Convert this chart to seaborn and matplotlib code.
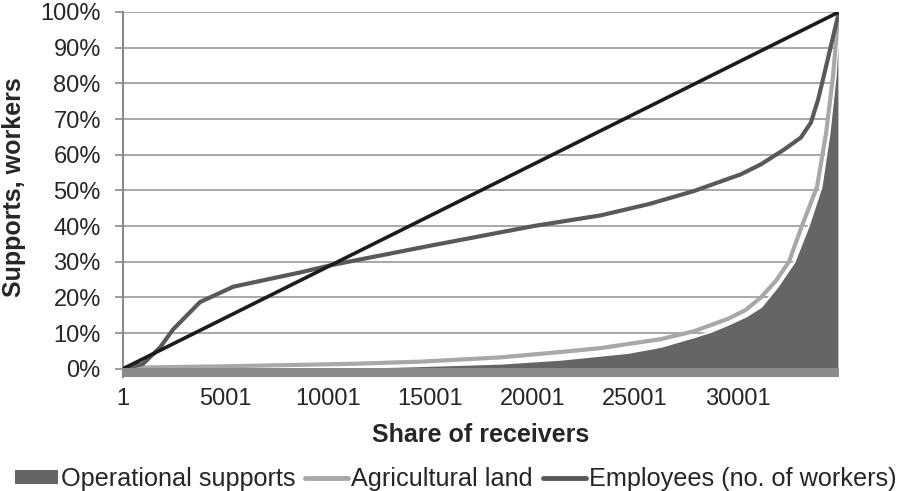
import numpy as np
import pandas as pd
import seaborn as sns
from matplotlib import pyplot as plt
from matplotlib.patches import Patch
from matplotlib.lines import Line2D

# ============================================================
# DATA (cumulative shares in %)
# ============================================================
ops_x = [1, 5000, 8650, 11240, 14520, 18430, 21360, 24640, 26250, 27860, 28690, 29530,
         30400, 31140, 31920, 32750, 33440, 34070, 34460, 34760, 34950]
ops_y = [0, 0, 0.1, 0.4, 0.9, 1.6, 2.7, 4.6, 6.3, 9.0, 10.5, 12.5,
         14.8, 17.5, 23, 30, 40, 51, 66, 82, 100]

land_x = [1, 5000, 11240, 14520, 18430, 21360, 23320, 26250, 27860, 29530, 30400, 31140,
          31850, 32510, 33140, 33880, 34320, 34660, 34930]
land_y = [0.3, 0.7, 1.4, 2.0, 3.2, 4.7, 5.8, 8.3, 10.5, 14, 16.5, 20,
          24.5, 30, 40, 51, 66, 82, 100]

emp_x = [1, 980, 1810, 2440, 3760, 5380, 8650, 10120, 15000, 20040,
         23320, 25700, 27860, 30160, 31140, 32260, 33090, 33580, 33930, 34320, 34660, 34950]
emp_y = [0, 1.4, 6, 11, 18.7, 23, 27, 29, 34.5, 40,
         43, 46.2, 49.8, 54.5, 57.3, 61.4, 64.8, 69, 75.4, 84.7, 93, 100]

equal_x = [1, 34950]
equal_y = [0, 100]

tick_pos = [1, 5001, 10001, 15001, 20001, 25001, 30001]
y_ticks = list(range(0, 101, 10))

series_names = ["Operational supports", "Agricultural land", "Employees (no. of workers)"]

# ============================================================
# PLOT
# ============================================================
sns.set_theme(style="white")
plt.rcParams['font.family'] = ['Liberation Sans', 'DejaVu Sans']

c_area = "#656565"
c_land = "#a8a8a8"
c_emp = "#595959"
c_eq = "#1c1c1c"
c_axis = "#8a8a8a"

fig = plt.figure(figsize=(9.06, 4.91), dpi=100)
ax = fig.add_axes([0.1358, 0.2322, 0.7902, 0.7434])

ax.fill_between(ops_x, ops_y, 0, color=c_area, edgecolor="white", linewidth=1.5, zorder=2)

land_df = pd.DataFrame({"x": land_x, "y": land_y})
emp_df = pd.DataFrame({"x": emp_x, "y": emp_y})
eq_df = pd.DataFrame({"x": equal_x, "y": equal_y})
sns.lineplot(data=land_df, x="x", y="y", color=c_land, linewidth=3, ax=ax, zorder=3)
sns.lineplot(data=emp_df, x="x", y="y", color=c_emp, linewidth=3, ax=ax, zorder=4)
sns.lineplot(data=eq_df, x="x", y="y", color=c_eq, linewidth=2.6, ax=ax, zorder=5)

# thick grey floor under the plot
ax.axhspan(-2.3, 0.3, color=c_axis, zorder=6, linewidth=0)

ax.set_xlim(1, 34950)
ax.set_ylim(-2.3, 100)
ax.set_yticks(y_ticks)
ax.set_yticklabels([f"{v}%" for v in y_ticks], fontsize=17)
ax.set_xticks(tick_pos)
ax.set_xticklabels([str(t) for t in tick_pos], fontsize=17)
ax.tick_params(axis="x", length=0, pad=8)
ax.tick_params(axis="y", length=6, width=1.2, color=c_axis, pad=10, left=True)
ax.grid(axis="y", color="#a0a0a0", linewidth=1.3, zorder=0)
ax.set_axisbelow(True)

for side in ["top", "right", "bottom"]:
    ax.spines[side].set_visible(False)
ax.spines["left"].set_color(c_axis)
ax.spines["left"].set_linewidth(1.5)

ax.set_xlabel("Share of receivers", fontsize=18, fontweight="bold", labelpad=9)
ax.set_ylabel("Supports, workers", fontsize=18, fontweight="bold", labelpad=10)
ax.yaxis.label.set_y(0.52)

handles = [
    Patch(facecolor=c_area, edgecolor="none"),
    Line2D([0], [0], color=c_land, linewidth=3.5),
    Line2D([0], [0], color=c_emp, linewidth=3.5),
]
fig.legend(handles, series_names, loc="lower center", bbox_to_anchor=(0.503, -0.026),
           ncol=3, frameon=False, fontsize=18.2, handlelength=1.7, handleheight=0.5,
           handletextpad=0.12, columnspacing=0.4, borderpad=0)

fig.savefig("out.png", dpi=100)
